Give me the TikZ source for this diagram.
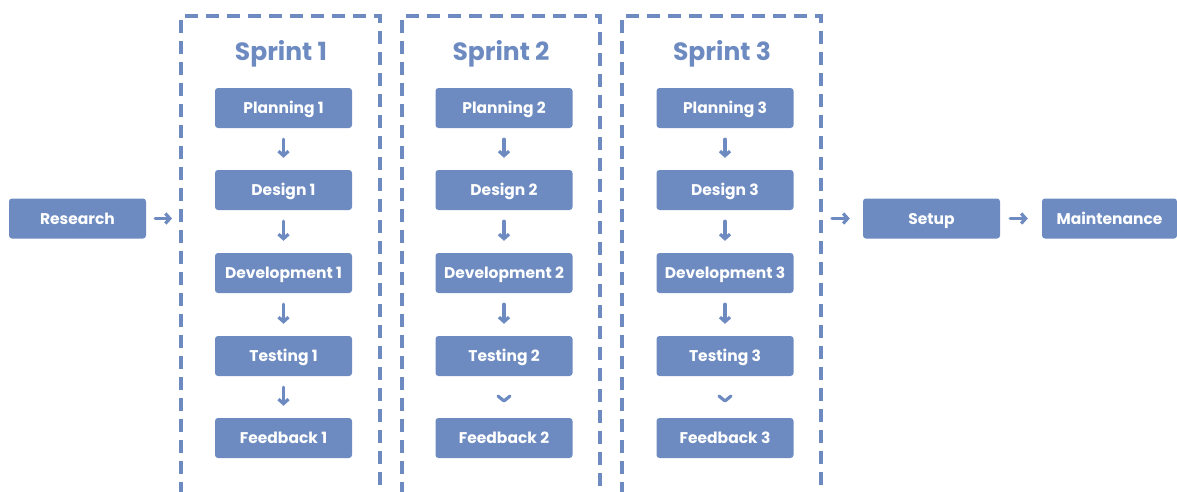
\documentclass[tikz,border=0pt]{standalone}
\usepackage{fontspec}
\setmainfont{Poppins}
\usetikzlibrary{arrows.meta,calc}
\definecolor{agile}{RGB}{109,139,193}
\begin{document}
\begin{tikzpicture}[x=1pt,y=-1pt,
 box/.style={fill=agile, rounded corners=3pt, minimum width=137pt, minimum height=40pt, text=white, font=\bfseries\fontsize{15.5}{18}\selectfont, inner sep=0pt, text height=12pt, text depth=1pt},
 flow/.style={draw=agile, line width=3.2pt, -{Straight Barb[length=4.5pt,width=10pt]}, line cap=round, line join=round},
 chevron/.style={draw=agile, line width=3.2pt, line cap=round, line join=round},
 frame/.style={draw=agile, line width=3.5pt, dash pattern=on 13pt off 8pt},
 title/.style={text=agile, font=\bfseries\fontsize{25}{28}\selectfont, anchor=base, inner sep=0pt}]
\useasboundingbox (0,0) rectangle (1177,491);

% outer flow
\node[box] (r) at (77.5,218.5) {Research};
\node[box] (su) at (931.5,218.5) {Setup};
\node[box, minimum width=135pt] (mt) at (1109.5,218.5) {Maintenance};

% sprint frames
\foreach \n/\l/\rr/\cx/\tx in {1/181/380/283.5/281, 2/402/600/504/501, 3/622/821/725/722}{
  \draw[frame] (\l,495) -- (\l,16) -- (\rr,16) -- (\rr,495);
  \node[title] (s\n) at (\tx,60) {Sprint \n};
  \node[box] (p\n) at (\cx,108) {Planning \n};
  \node[box] (d\n) at (\cx,190) {Design \n};
  \node[box] (v\n) at (\cx,273) {Development \n};
  \node[box] (t\n) at (\cx,356) {Testing \n};
  \node[box] (f\n) at (\cx,438) {Feedback \n};
  \draw[flow, shorten <=11pt, shorten >=12pt] (p\n.south) -- (d\n.north);
  \draw[flow, shorten <=11pt, shorten >=12pt] (d\n.south) -- (v\n.north);
  \draw[flow, shorten <=11pt, shorten >=12pt] (v\n.south) -- (t\n.north);
}
\draw[flow, shorten <=11pt, shorten >=12pt] (t1.south) -- (f1.north);
\draw[chevron] ($(t2.south)!0.5!(f2.north)+(-6,-1)$) -- ++(6,5) -- ++(6,-5);
\draw[chevron] ($(t3.south)!0.5!(f3.north)+(-6,-1)$) -- ++(6,5) -- ++(6,-5);

% horizontal connectors
\coordinate (in1) at (172,218.5);
\coordinate (out3) at (832,218.5);
\draw[flow, shorten <=9pt] (r.east) -- (in1);
\draw[flow, shorten >=13pt] (out3) -- (su.west);
\draw[flow, shorten <=10pt, shorten >=14pt] (su.east) -- (mt.west);
\end{tikzpicture}
\end{document}
